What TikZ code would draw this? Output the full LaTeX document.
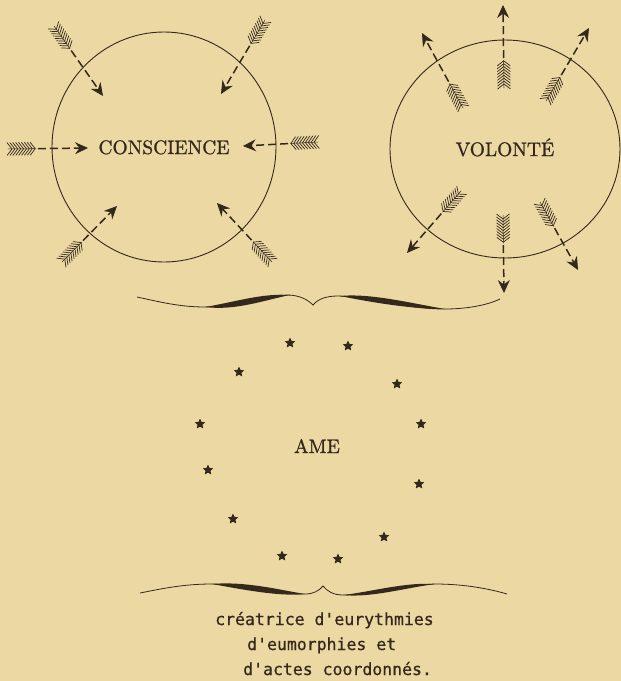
\documentclass[tikz,border=0pt]{standalone}
\usepackage{fontspec}
\newfontfamily\monofont{DejaVu Sans Mono}[FakeBold=0.6]
\newfontfamily\capsfont{lmroman10-regular}[Extension=.otf, FakeBold=0.9]
\usetikzlibrary{arrows.meta,decorations.markings,shapes.geometric}
\definecolor{paper}{RGB}{236,216,163}
\definecolor{ink}{RGB}{52,40,28}
\newcommand\myfletch{%
  \draw[ink, line width=0.5pt] (0pt,0pt) -- (28pt,0pt);
  \foreach \k in {0,...,8}{%
    \draw[ink, line width=0.7pt] ({4pt+\k*2.9pt},0pt) -- ++(-5pt,6.5pt);
    \draw[ink, line width=0.7pt] ({4pt+\k*2.9pt},0pt) -- ++(-5pt,-6.5pt);
  }%
}
\begin{document}
\begin{tikzpicture}[x=1pt,y=-1pt,
  fletch/.style={decorate, decoration={markings, mark=at position 0 with {\myfletch}}},
  shaft/.style={draw=ink, line width=1.5pt, dash pattern=on 8pt off 4pt, shorten <=30pt,
    -{Stealth[length=13pt,width=12pt,inset=4.5pt,fill=ink,line width=0.8pt]}},
  ring/.style={draw=ink, line width=0.9pt, ellipse, inner sep=0pt},
  lbl/.style={text=ink, font=\capsfont\fontsize{19.5}{22}\selectfont, inner sep=0pt},
  mono/.style={text=ink, font=\monofont\fontsize{16.5}{20}\selectfont, inner sep=0pt},
  starmark/.style={star, star points=5, star point ratio=2.1, fill=ink, draw=none, inner sep=0pt, minimum size=11pt}]
\fill[paper] (0,0) rectangle (621,681);
\useasboundingbox (0,0) rectangle (621,681);
% circles
\node[ring, minimum width=224pt, minimum height=230pt] (cons) at (164,147) {};
\node[ring, minimum width=230pt, minimum height=218pt] (vol) at (505,149) {};
\node[lbl, anchor=base] (tcons) at (164,154) {CONSCIENCE};
\node[lbl, anchor=base] (tvol) at (505,156) {VOLONTÉ};
% arrows
\foreach \n/\tx/\ty/\hx/\hy in {1/54/26/103/96, 2/265/20/221/94, 3/8/149/88/148, 4/318/142/243/146,
  5/62/262/117/206, 6/272/262/217/203, 7/504/88/503/5, 8/463/108/422/33, 9/546/101/589/28,
  10/461/191/407/253, 11/503/215/504/293, 12/540/202/578/270}{
  \coordinate (a\n t) at (\tx,\ty);
  \coordinate (a\n h) at (\hx,\hy);
  \path[fletch] (a\n t) -- (a\n h);
  \draw[shaft] (a\n t) -- (a\n h);
}
% upper brace
\draw[ink, line width=0.8pt] (137,297) .. controls (160,302) and (180,307) .. (205,307)
  .. controls (235,306) and (265,297) .. (287,295)
  .. controls (300,295) and (308,300) .. (313,305)
  .. controls (318,299) and (326,296) .. (338,296)
  .. controls (370,297) and (405,309) .. (445,309)
  .. controls (470,309) and (490,304) .. (500,299);
\fill[ink] (205,307) .. controls (235,302) and (262,293) .. (290,295)
  .. controls (265,300) and (235,311) .. (205,307);
\fill[ink] (340,296) .. controls (370,293) and (410,303) .. (445,309)
  .. controls (410,309) and (370,302) .. (340,296);
% stars
\foreach \n/\sx/\sy in {1/290/343, 2/348/346, 3/239/372, 4/397/384, 5/200/424, 6/421/424,
  7/208/470, 8/419/484, 9/233/519, 10/384/537, 11/282/556, 12/338/559}{
  \node[starmark] (s\n) at (\sx,\sy) {};
}
\node[lbl, anchor=base] (tame) at (317,453) {AME};
% lower brace
\draw[ink, line width=0.8pt] (140,593) .. controls (165,588) and (185,584) .. (212,584)
  .. controls (245,585) and (280,594) .. (305,594)
  .. controls (313,594) and (319,591) .. (323,586)
  .. controls (327,591) and (333,595) .. (343,595)
  .. controls (370,595) and (405,585) .. (435,584)
  .. controls (465,584) and (490,589) .. (507,594);
\fill[ink] (212,584) .. controls (245,581) and (280,590) .. (305,594)
  .. controls (280,597) and (240,589) .. (212,584);
\fill[ink] (343,595) .. controls (370,592) and (405,582) .. (435,584)
  .. controls (405,588) and (370,598) .. (343,595);
% caption
\node[mono, anchor=base west] (t1) at (215,625) {créatrice d'eurythmies};
\node[mono, anchor=base west] (t2) at (247,650) {d'eumorphies et};
\node[mono, anchor=base west] (t3) at (243,675) {d'actes coordonnés.};
\end{tikzpicture}
\end{document}
